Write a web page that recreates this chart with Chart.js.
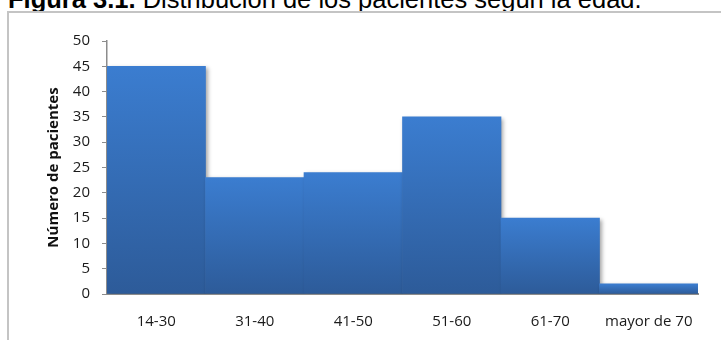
<!DOCTYPE html>
<html>
<head>
<meta charset="utf-8">
<script src="https://cdn.jsdelivr.net/npm/chart.js@4"></script>
<style>
  html, body { margin: 0; padding: 0; background: #fff; overflow: hidden; }
  #wrap { position: relative; width: 721px; height: 340px; }
  #title {
    position: absolute; left: 8px; top: -15px; white-space: nowrap; line-height: 29px;
    font-family: "Liberation Sans", Arial, sans-serif; font-size: 25.5px; color: #000;
  }
  #frame {
    position: absolute; left: 7px; top: 11px; width: 800px; height: 400px;
    border: 2px solid #c4c4c4; box-sizing: border-box;
  }
  #chart { position: absolute; left: 0; top: 0; }
</style>
</head>
<body>
<div id="wrap">
  <div id="title"><b>Figura 3.1.</b> Distribución de los pacientes según la edad.</div>
  <div id="frame"></div>
  <canvas id="chart" width="721" height="340"></canvas>
</div>
<script>
// ===== DATA =====
const ageGroups = ['14-30', '31-40', '41-50', '51-60', '61-70', 'mayor de 70'];
const patientCounts = [45, 23, 24, 35, 15, 2];
const yTicks = [0, 5, 10, 15, 20, 25, 30, 35, 40, 45, 50];

const FONT = '"Open Sans", "DejaVu Sans", sans-serif';

// each bar gets its own top-to-bottom gradient
function barFill(ctx) {
  const chart = ctx.chart;
  const y = chart.scales && chart.scales.y;
  if (!chart.chartArea || !y) return '#3670c0';
  const top = y.getPixelForValue(ctx.raw);
  const base = y.getPixelForValue(0);
  if (!isFinite(top) || !isFinite(base) || top === base) return '#3670c0';
  const g = chart.ctx.createLinearGradient(0, top, 0, base);
  g.addColorStop(0, '#3b7dd0');
  g.addColorStop(1, '#2d5b99');
  return g;
}

const barShadow = {
  id: 'barShadow',
  beforeDatasetsDraw(chart) {
    const c = chart.ctx;
    c.save();
    c.shadowColor = 'rgba(0,0,0,0.35)';
    c.shadowBlur = 4;
    c.shadowOffsetX = 2;
    c.shadowOffsetY = 2;
  },
  afterDatasetsDraw(chart) {
    chart.ctx.restore();
  }
};

new Chart(document.getElementById('chart'), {
  type: 'bar',
  data: {
    labels: ageGroups,
    datasets: [{
      data: patientCounts,
      backgroundColor: barFill,
      borderWidth: 0,
      categoryPercentage: 1,
      barPercentage: 1
    }]
  },
  options: {
    responsive: false,
    animation: false,
    layout: { padding: { left: 0, top: 41, right: 23, bottom: 0 } },
    plugins: { legend: { display: false }, tooltip: { enabled: false } },
    scales: {
      x: {
        grid: { display: false },
        border: { display: true, color: '#8c8c8c', width: 2 },
        ticks: { color: '#1a1a1a', font: { family: FONT, size: 15 }, padding: 11, maxRotation: 0 },
        afterFit: s => { s.height = 46; }
      },
      y: {
        min: 0, max: 50,
        afterBuildTicks: s => { s.ticks = yTicks.map(v => ({ value: v })); },
        grid: { drawOnChartArea: false, drawTicks: true, tickLength: 5, color: '#8c8c8c', lineWidth: 1 },
        border: { display: true, color: '#8c8c8c', width: 1.5 },
        ticks: { color: '#1a1a1a', font: { family: FONT, size: 15 }, padding: 12 },
        title: {
          display: true, text: 'Número de pacientes', color: '#111',
          font: { family: FONT, size: 15, weight: 'bold' }, padding: { top: 45, bottom: 0 }
        },
        afterFit: s => { s.width = 107; }
      }
    }
  },
  plugins: [barShadow]
});
</script>
</body>
</html>
